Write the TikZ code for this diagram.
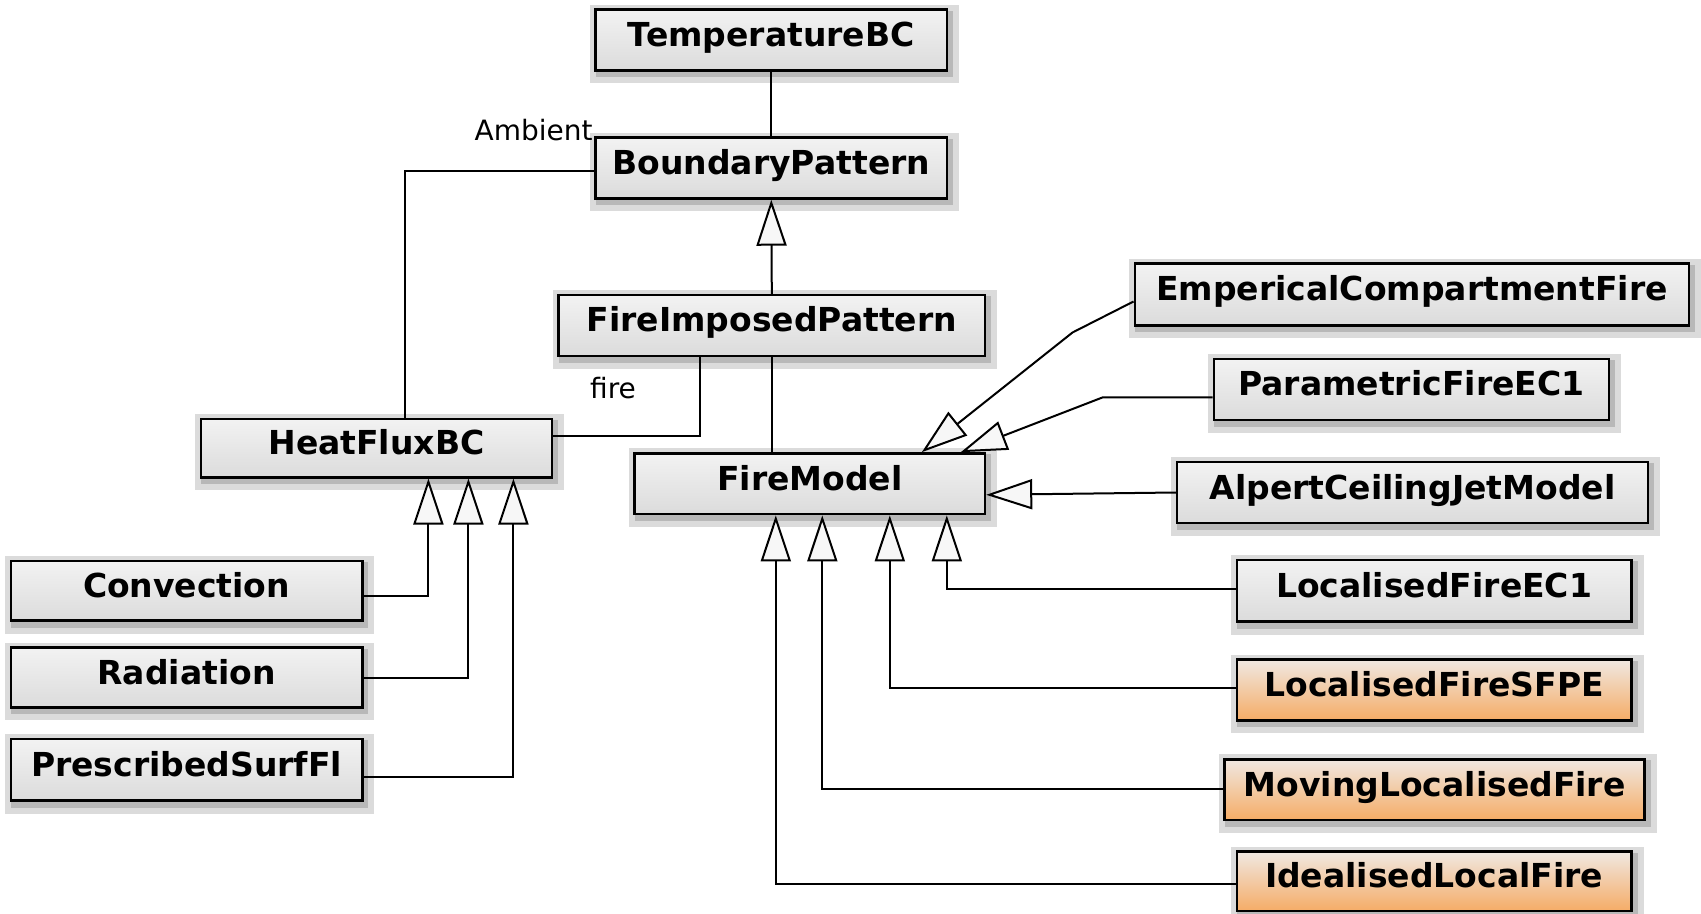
\documentclass[tikz,border=0pt]{standalone}
\usepackage{fontspec}
\setmainfont{DejaVu Sans}
\usetikzlibrary{arrows.meta,calc}

\definecolor{haloOuter}{gray}{0.86}
\definecolor{haloInner}{gray}{0.72}
\definecolor{peachTop}{RGB}{240,232,226}
\definecolor{peachMid}{RGB}{246,214,186}
\definecolor{peachBot}{RGB}{245,172,102}

\tikzset{
  umlclass/.style={
    draw=black, line width=1.2pt, inner sep=0pt,
    minimum height=30.4pt, text height=12pt, text depth=5.5pt,
    font=\bfseries\fontsize{16.5}{19}\selectfont,
    top color=gray!10, middle color=gray!2, bottom color=gray!28,
    preaction={shade=false, draw=haloOuter, fill=haloOuter, line width=9pt,
               transform canvas={shift={(1.5pt,-2pt)}}},
    preaction={shade=false, draw=haloInner, fill=haloInner, line width=3pt,
               transform canvas={shift={(1.5pt,-2pt)}}}
  },
  newclass/.style={umlclass, top color=peachTop, middle color=peachMid, bottom color=peachBot},
  rolelabel/.style={font=\fontsize{14}{16}\selectfont, inner sep=0pt},
  assoc/.style={draw=black, line width=1pt},
  inherit/.style={draw=black, line width=1pt,
    -{Triangle[length=23pt,width=15pt,fill=gray!6]}}
}

\begin{document}
\begin{tikzpicture}[x=0.5pt,y=-0.5pt]
\useasboundingbox (0,0) rectangle (1701,914);

% central chain
\node[umlclass, minimum width=175.7pt] (temp) at (771.3,40.1)  {TemperatureBC};
\node[umlclass, minimum width=175.7pt] (bp)   at (771.3,168.1) {BoundaryPattern};
\node[umlclass, minimum width=213.2pt] (fip)  at (771.8,325.4) {FireImposedPattern};
\node[umlclass, minimum width=175.7pt, minimum height=29.3pt] (hf) at (376.4,448) {HeatFluxBC};
\node[umlclass, minimum width=175.2pt] (fm)   at (809.8,483.8) {FireModel};

% heat flux kinds
\node[umlclass, minimum width=175.7pt, minimum height=29.9pt] (conv) at (186.6,590.7) {Convection};
\node[umlclass, minimum width=175.7pt, minimum height=29.9pt] (rad)  at (186.6,677.5) {Radiation};
\node[umlclass, minimum width=175.7pt, minimum height=30.9pt] (psf)  at (186.6,769.7) {PrescribedSurfFl};

% fire models
\node[umlclass, minimum width=277.2pt, minimum height=30.9pt] (ecf) at (1411.9,294.5) {EmpericalCompartmentFire};
\node[umlclass, minimum width=197.5pt] (pf)  at (1411.3,389.4) {ParametricFireEC1};
\node[umlclass, minimum width=235.4pt] (acj) at (1412.4,492.5) {AlpertCeilingJetModel};
\node[umlclass, minimum width=197.4pt, minimum height=30.9pt] (lf1) at (1434.1,590.7) {LocalisedFireEC1};
\node[newclass, minimum width=197.4pt] (lfs) at (1434.1,690)   {LocalisedFireSFPE};
\node[newclass, minimum width=210pt]   (mlf) at (1434.6,789.7) {MovingLocalisedFire};
\node[newclass, minimum width=197.4pt, minimum height=29.8pt] (ilf) at (1434.1,881.4) {IdealisedLocalFire};

% role names
\node[rolelabel, anchor=base] (ambient) at (533.6,140.7) {Ambient};
\node[rolelabel, anchor=base] (firelbl) at (613,398.3) {fire};

% associations
\draw[assoc] (temp.south) -- (bp.north);
\draw[assoc] ($(bp.west)+(0,3)$) -| ($(hf.north)+(29,0)$);
\draw[assoc] ($(fip.south)+(-72,0)$) |- ($(hf.east)+(0,-12)$);
\draw[assoc] (fip.south) -- (fip.south |- fm.north);

% generalisations
\draw[inherit] (fip.north) -- (bp.south);

\draw[inherit] ($(conv.east)+(0,5)$) -| ($(hf.south)+(52,0)$);
\draw[inherit] ($(rad.east)+(0,0.5)$) -| ($(hf.south)+(92,0)$);
\draw[inherit] ($(psf.east)+(0,7)$) -| ($(hf.south)+(137,0)$);

\draw[inherit] ($(ecf.west)+(0,7)$) -- ++(-61,31) -- ($(fm.north)+(112,0)$);
\draw[inherit] ($(pf.west)+(0,8)$) -- ++(-110,0) -- ($(fm.north)+(151,0)$);
\draw[inherit] (acj.west) -- ($(fm.east)+(0,11)$);
\draw[inherit] ($(lf1.west)+(0,-2)$) -| ($(fm.south)+(137,0)$);
\draw[inherit] ($(lfs.west)+(0,-2)$) -| ($(fm.south)+(80,0)$);
\draw[inherit] ($(mlf.west)+(0,-1)$) -| ($(fm.south)+(12.5,0)$);
\draw[inherit] ($(ilf.west)+(0,3)$) -| ($(fm.south)+(-34,0)$);
\end{tikzpicture}
\end{document}
